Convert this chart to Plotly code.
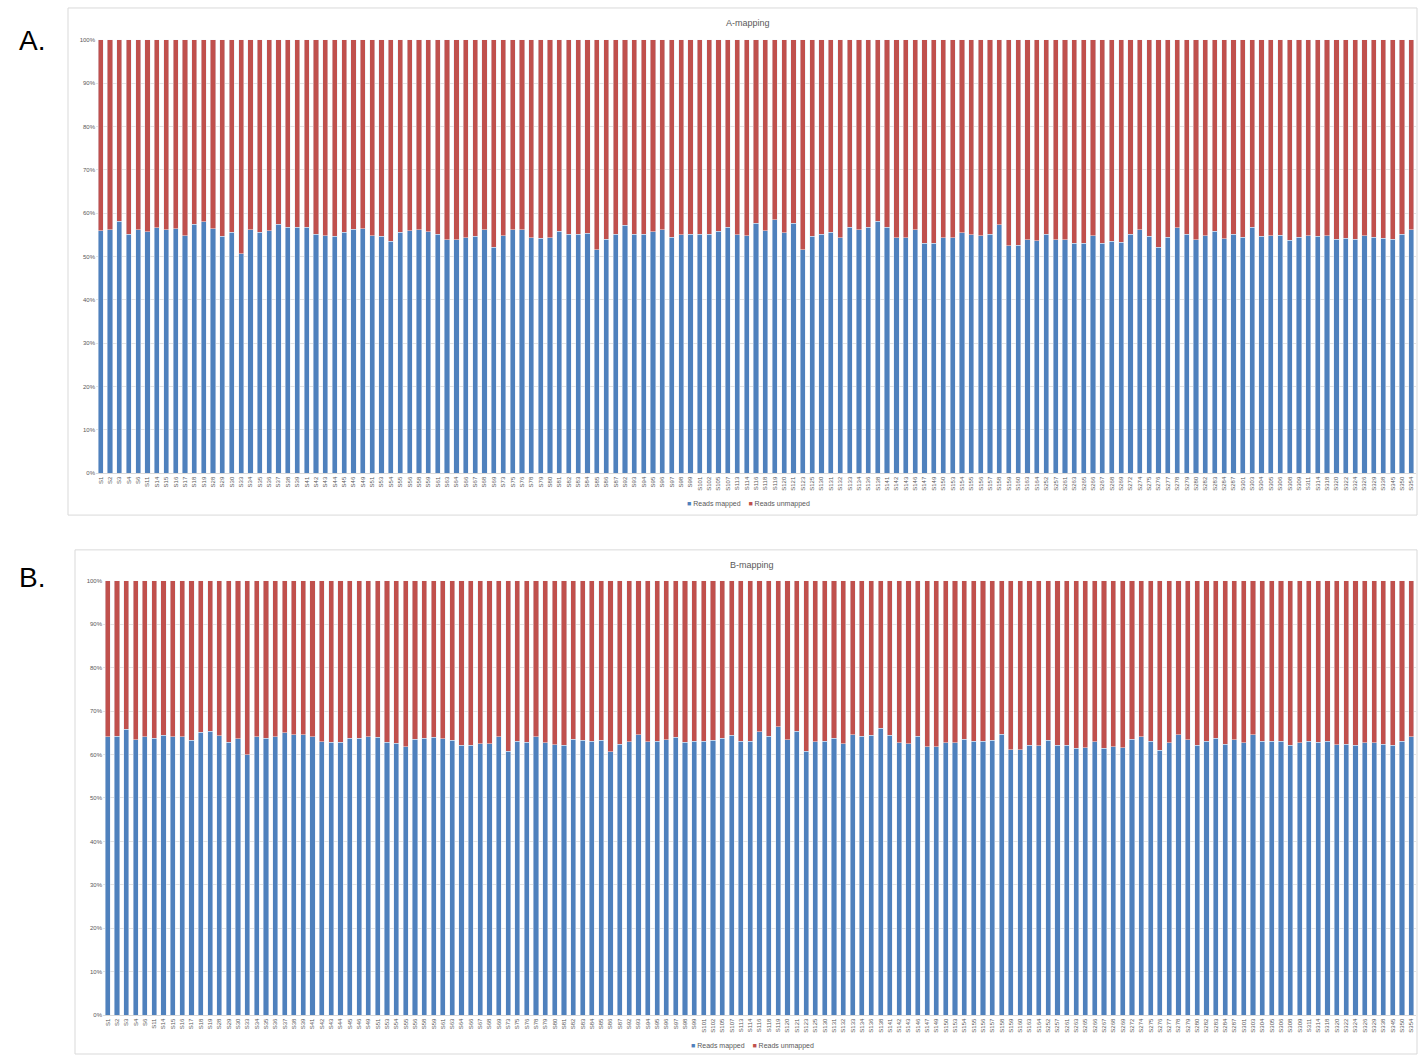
import plotly.graph_objects as go

samples = [
    "S1","S2","S3","S4","S6","S11","S14","S15","S16","S17",
    "S18","S19","S28","S29","S30","S33","S34","S35","S36","S37",
    "S38","S39","S41","S42","S43","S44","S45","S46","S49","S51",
    "S53","S54","S55","S56","S58","S59","S61","S63","S64","S66","S67",
    "S68","S69","S73","S75","S76","S78","S79","S80","S81","S82",
    "S83","S84","S85","S86","S87","S92","S93","S94","S95","S96",
    "S97","S98","S99","S101","S102","S105","S107","S113","S114","S116",
    "S118","S119","S120","S121","S123","S125","S130","S131","S132","S133",
    "S134","S136","S138","S141","S142","S143","S146","S147","S149","S150",
    "S153","S154","S155","S156","S157","S158","S159","S160","S163","S164",
    "S252","S257","S261","S263","S265","S266","S267","S268","S269","S272",
    "S274","S275","S276","S277","S278","S279","S280","S282","S283","S284",
    "S287","S301","S303","S304","S305","S306","S308","S309","S311","S314",
    "S318","S320","S322","S324","S326","S329","S338","S345","S350","S354",
]

a_mapped = [
    56.0, 56.2, 58.2, 55.1, 56.2, 55.7, 56.6, 56.2, 56.4, 54.8,
    57.5, 58.0, 56.4, 54.7, 55.6, 50.6, 56.2, 55.6, 56.0, 57.5,
    56.8, 56.8, 56.8, 55.2, 54.8, 54.7, 55.6, 56.3, 56.4, 54.8,
    54.7, 53.5, 55.6, 55.9, 56.2, 55.7, 55.2, 53.9, 53.9, 54.3,
    54.7, 56.2, 52.2, 54.8, 56.2, 56.2, 54.3, 54.2, 54.3, 55.8,
    55.2, 55.1, 55.4, 51.6, 54.0, 55.2, 57.2, 55.2, 55.1, 55.7,
    56.2, 54.5, 55.0,
    55.2, 55.1, 55.2, 55.8, 56.8, 55.0, 54.8, 57.7, 56.0, 58.5,
    55.5, 57.7, 51.6, 54.7, 55.2, 55.6, 54.3, 56.8, 56.2, 56.8,
    58.2, 56.8, 54.3, 54.3, 56.2, 53.1, 53.1, 54.3, 54.3, 55.5,
    55.0, 54.8, 55.2, 57.3, 52.5, 52.6, 53.9, 53.7, 55.2, 53.9,
    53.9, 53.1, 53.1, 54.8, 53.1, 53.5, 53.3, 55.2, 56.2, 54.7,
    52.1, 54.4, 56.7, 55.2, 53.9, 54.8, 55.8, 54.1, 55.2, 54.5,
    56.8, 54.7, 54.8, 54.9, 53.8, 54.5, 54.8, 54.7, 54.8, 54.0,
    54.2, 54.0, 54.8, 54.4, 54.2, 54.0, 55.2, 56.2,
]

b_mapped = [
    64.1, 64.2, 65.8, 63.4, 64.1, 63.8, 64.4, 64.1, 64.1, 63.3,
    65.1, 65.4, 64.3, 62.8, 63.6, 59.9, 64.1, 63.7, 64.1, 65.0,
    64.6, 64.5, 64.1, 62.9, 62.8, 62.8, 63.8, 63.7, 64.1, 64.0,
    62.8, 62.6, 61.8, 63.5, 63.8, 64.0, 63.6, 63.3, 62.1, 62.1,
    62.5, 62.5, 64.1, 60.8, 63.0, 62.8, 64.1, 62.7, 62.2, 62.1,
    63.5, 63.3, 63.0, 63.3, 60.6, 62.4, 62.9, 64.6, 62.9, 63.1,
    63.4, 64.0, 62.8, 63.1, 63.1, 63.3, 63.7, 64.4, 63.1, 63.1,
    65.2, 64.2, 66.4, 63.4, 65.4, 60.8, 62.9, 63.1, 63.7, 62.5,
    64.6, 64.2, 64.4, 66.1, 64.4, 62.7, 62.5, 64.2, 61.8, 61.8,
    62.7, 62.7, 63.5, 63.0, 63.1, 63.3, 64.7, 61.1, 61.1, 62.1,
    62.0, 63.3, 62.1, 62.1, 61.4, 61.6, 62.9, 61.4, 61.8, 61.5,
    63.5, 64.1, 63.1, 61.0, 62.7, 64.6, 63.4, 62.1, 63.1, 63.8,
    62.4, 63.4, 62.7, 64.6, 63.1, 63.1, 63.1, 62.1, 62.7, 63.1,
    62.8, 63.1, 62.3, 62.4, 62.1, 62.7, 62.7, 62.4, 62.1, 63.1,
    64.1,
]

a_unmapped = [round(100 - v, 2) for v in a_mapped]
b_unmapped = [round(100 - v, 2) for v in b_mapped]

BLUE = "#4F81BD"
RED = "#C0504D"
W, H = 1418, 1058
FONT = "Liberation Sans"
TICKC = "#595959"

fig = go.Figure()
fig.add_trace(go.Bar(x=samples, y=a_mapped, name="Reads mapped", marker_color=BLUE,
                     xaxis="x", yaxis="y"))
fig.add_trace(go.Bar(x=samples, y=a_unmapped, name="Reads unmapped", marker_color=RED,
                     xaxis="x", yaxis="y"))
fig.add_trace(go.Bar(x=samples, y=b_mapped, name="Reads mapped", marker_color=BLUE,
                     xaxis="x2", yaxis="y2"))
fig.add_trace(go.Bar(x=samples, y=b_unmapped, name="Reads unmapped", marker_color=RED,
                     xaxis="x2", yaxis="y2"))


def px_x(p):
    return min(max(p / W, 0.0), 1.0)


def px_y(p):
    return min(max(1 - p / H, 0.0), 1.0)


xcommon = dict(type="category", tickmode="array", tickvals=samples, ticktext=samples,
               tickangle=-90, tickfont=dict(size=6, color=TICKC, family=FONT),
               showgrid=False, showline=True, linecolor="#D9D9D9", linewidth=1,
               ticks="", fixedrange=True)
ycommon = dict(range=[0, 100], tickmode="linear", tick0=0, dtick=10, ticksuffix="%",
               tickfont=dict(size=6, color=TICKC, family=FONT), showgrid=True,
               gridcolor="#E3E3E3", gridwidth=1, zeroline=False, showline=False, ticks="")


def legend_text():
    return (f'<span style="color:{BLUE}">■</span> Reads mapped    '
            f'<span style="color:{RED}">■</span> Reads unmapped')


fig.update_layout(
    width=W, height=H, margin=dict(l=0, r=0, t=0, b=0),
    paper_bgcolor="white", plot_bgcolor="white",
    barmode="stack", bargap=0.45,
    font=dict(family=FONT, color=TICKC),
    showlegend=False,
    xaxis=dict(domain=[px_x(96), px_x(1416)], anchor="y", **xcommon),
    yaxis=dict(domain=[px_y(473), px_y(37)], anchor="x", **ycommon),
    xaxis2=dict(domain=[px_x(103), px_x(1416)], anchor="y2", **xcommon),
    yaxis2=dict(domain=[px_y(1018), px_y(581)], anchor="x2", **ycommon),
    annotations=[
        dict(text="A-mapping", x=px_x(748), y=px_y(20), xref="paper", yref="paper",
             xanchor="center", yanchor="middle", showarrow=False,
             font=dict(size=9, color=TICKC, family=FONT)),
        dict(text="B-mapping", x=px_x(752), y=px_y(565), xref="paper", yref="paper",
             xanchor="center", yanchor="middle", showarrow=False,
             font=dict(size=9, color=TICKC, family=FONT)),
        dict(text="A.", x=px_x(32), y=px_y(38), xref="paper", yref="paper",
             xanchor="center", yanchor="middle", showarrow=False,
             font=dict(size=28, color="black", family=FONT)),
        dict(text="B.", x=px_x(32), y=px_y(578), xref="paper", yref="paper",
             xanchor="center", yanchor="middle", showarrow=False,
             font=dict(size=28, color="black", family=FONT)),
        dict(text=legend_text(), x=px_x(749), y=px_y(504), xref="paper", yref="paper",
             xanchor="center", yanchor="middle", showarrow=False,
             font=dict(size=7, color=TICKC, family=FONT)),
        dict(text=legend_text(), x=px_x(753), y=px_y(1049), xref="paper", yref="paper",
             xanchor="center", yanchor="middle", showarrow=False,
             font=dict(size=7, color=TICKC, family=FONT)),
    ],
    shapes=[
        dict(type="rect", xref="paper", yref="paper", x0=px_x(68), x1=px_x(1417),
             y0=px_y(515), y1=px_y(5), line=dict(color="#D9D9D9", width=1)),
        dict(type="rect", xref="paper", yref="paper", x0=px_x(75), x1=px_x(1417),
             y0=px_y(1057), y1=px_y(550), line=dict(color="#D9D9D9", width=1)),
    ],
)

fig.write_html(
    "out.html",
    config={"displayModeBar": False},
    post_script="document.body.style.margin='0';"
                "document.documentElement.style.overflow='hidden';"
                "document.body.style.overflow='hidden';",
)
